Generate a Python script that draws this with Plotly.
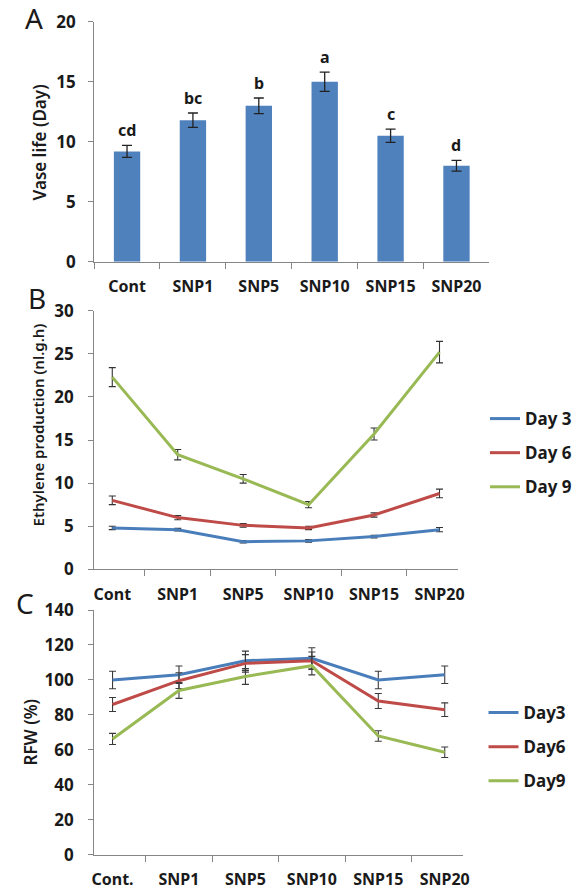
import plotly.graph_objects as go

# ---- data ----
treat_a = ["Cont", "SNP1", "SNP5", "SNP10", "SNP15", "SNP20"]
vase_life = [9.2, 11.8, 13.0, 15.0, 10.5, 8.0]
vase_err = [0.5, 0.6, 0.65, 0.8, 0.55, 0.45]
vase_letters = ["cd", "bc", "b", "a", "c", "d"]

treat_b = ["Cont", "SNP1", "SNP5", "SNP10", "SNP15", "SNP20"]
eth_day3 = [4.8, 4.6, 3.2, 3.3, 3.8, 4.6]
eth_day3_err = [0.2, 0.15, 0.15, 0.15, 0.15, 0.25]
eth_day6 = [8.0, 6.0, 5.1, 4.8, 6.3, 8.8]
eth_day6_err = [0.5, 0.25, 0.2, 0.2, 0.25, 0.5]
eth_day9 = [22.3, 13.3, 10.5, 7.5, 15.7, 25.2]
eth_day9_err = [1.1, 0.6, 0.5, 0.35, 0.7, 1.25]

treat_c = ["Cont.", "SNP1", "SNP5", "SNP10", "SNP15", "SNP20"]
rfw_day3 = [100, 103, 111, 112.4, 100, 103]
rfw_day3_err = [5, 5, 5.5, 6, 5, 5]
rfw_day6 = [86, 99.6, 109.5, 111, 88, 83]
rfw_day6_err = [4, 4.5, 5, 5, 4.3, 3.9]
rfw_day9 = [66.3, 94, 102, 108.2, 68, 58.7]
rfw_day9_err = [3.2, 4.5, 4.5, 5.3, 3, 3]

# ---- styling ----
W, H = 577, 892
FONT = "Noto Sans"
BAR_BLUE = "#4F81BD"
BLUE = "#4A7EBB"
RED = "#BE4B48"
GREEN = "#98B954"
AXIS = "#868686"
TXT = "#1a1a1a"

# vertical layout: positions are spread slightly about y=464 px
Y_MID, Y_SPREAD = 464.0, 1 / 0.9744


def px_x(p):
    return p / W


def px_y(p):
    return 1 - (Y_MID + (p - Y_MID) * Y_SPREAD) / H


fig = go.Figure()

# Panel A: vase life bars
fig.add_trace(go.Bar(
    x=treat_a, y=vase_life, width=0.4, marker=dict(color=BAR_BLUE, line=dict(width=0)),
    error_y=dict(type="data", array=vase_err, color="#222", thickness=1.3, width=5),
    xaxis="x", yaxis="y", showlegend=False,
))
for cat, v, e, lab in zip(treat_a, vase_life, vase_err, vase_letters):
    fig.add_annotation(x=cat, y=v + e, xref="x", yref="y", text=lab, showarrow=False,
                       yanchor="bottom", yshift=2,
                       font=dict(family=FONT, size=16, color=TXT, weight="bold"))

# Panel B: ethylene production
for name, vals, err, col in [("Day 3", eth_day3, eth_day3_err, BLUE),
                             ("Day 6", eth_day6, eth_day6_err, RED),
                             ("Day 9", eth_day9, eth_day9_err, GREEN)]:
    fig.add_trace(go.Scatter(
        x=treat_b, y=vals, mode="lines", name=name, line=dict(color=col, width=3),
        error_y=dict(type="data", array=err, color="#333", thickness=1.1, width=3.5),
        xaxis="x2", yaxis="y2", legend="legend", legendgroup=name,
    ))

# Panel C: relative fresh weight
for name, vals, err, col in [("Day3", rfw_day3, rfw_day3_err, BLUE),
                             ("Day6", rfw_day6, rfw_day6_err, RED),
                             ("Day9", rfw_day9, rfw_day9_err, GREEN)]:
    fig.add_trace(go.Scatter(
        x=treat_c, y=vals, mode="lines", name=name, line=dict(color=col, width=3),
        error_y=dict(type="data", array=err, color="#3a3a3a", thickness=1.1, width=3.5),
        xaxis="x3", yaxis="y3", legend="legend2", legendgroup=name,
    ))

xtick_font = dict(family=FONT, size=16, color=TXT, weight="bold")
ytick_font = dict(family=FONT, size=17, color=TXT, weight="bold")


def xaxis(domain, anchor):
    return dict(domain=domain, anchor=anchor, type="category", showline=True,
                linecolor=AXIS, linewidth=1, ticks="outside", tickson="boundaries",
                ticklen=6, tickcolor=AXIS, showgrid=False, zeroline=False,
                tickfont=xtick_font, ticklabelstandoff=10, fixedrange=True)


def yaxis(domain, anchor, rng, dtick, standoff):
    return dict(domain=domain, anchor=anchor, range=rng, dtick=dtick, showline=True,
                linecolor=AXIS, linewidth=1, ticks="outside", ticklen=5, tickcolor=AXIS,
                showgrid=False, zeroline=False, tickfont=ytick_font,
                ticklabelstandoff=standoff, fixedrange=True)


legend_font = dict(family=FONT, size=17, color=TXT, weight="bold")

fig.update_layout(
    width=W, height=H, margin=dict(l=0, r=0, t=0, b=0),
    paper_bgcolor="white", plot_bgcolor="white",
    font=dict(family=FONT, color=TXT),
    xaxis=xaxis([px_x(92.7), px_x(495)], "y"),
    yaxis=yaxis([px_y(261.7), px_y(21.7)], "x", [0, 20], 5, 9),
    xaxis2=xaxis([px_x(92.7), px_x(462.7)], "y2"),
    yaxis2=yaxis([px_y(569.3), px_y(310.7)], "x2", [0, 30], 5, 11),
    xaxis3=xaxis([px_x(92.7), px_x(468.3)], "y3"),
    yaxis3=yaxis([px_y(855), px_y(610)], "x3", [0, 140], 20, 11),
    legend=dict(x=px_x(491), y=px_y(453), xanchor="left", yanchor="middle",
                font=legend_font, tracegroupgap=9, bgcolor="rgba(0,0,0,0)", itemwidth=30),
    legend2=dict(x=px_x(489), y=px_y(747), xanchor="left", yanchor="middle",
                 font=legend_font, tracegroupgap=9, bgcolor="rgba(0,0,0,0)", itemwidth=30),
)

# panel letters
for lab, x, y in [("A", 32, 18), ("B", 35, 298), ("C", 22, 603)]:
    fig.add_annotation(x=px_x(x), y=px_y(y), xref="paper", yref="paper", text=lab,
                       showarrow=False, xanchor="center", yanchor="middle",
                       font=dict(family=FONT, size=28, color=TXT))

# y-axis titles
for lab, x, y, size in [("Vase life (Day)", 37, 142, 17),
                        ("Ethylene production (nl.g.h)", 36, 425, 15),
                        ("RFW (%)", 28, 732, 17)]:
    fig.add_annotation(x=px_x(x), y=px_y(y), xref="paper", yref="paper", text=lab,
                       showarrow=False, textangle=-90, xanchor="center", yanchor="middle",
                       font=dict(family=FONT, size=size, color=TXT, weight=600))

fig.write_html("out.html")
